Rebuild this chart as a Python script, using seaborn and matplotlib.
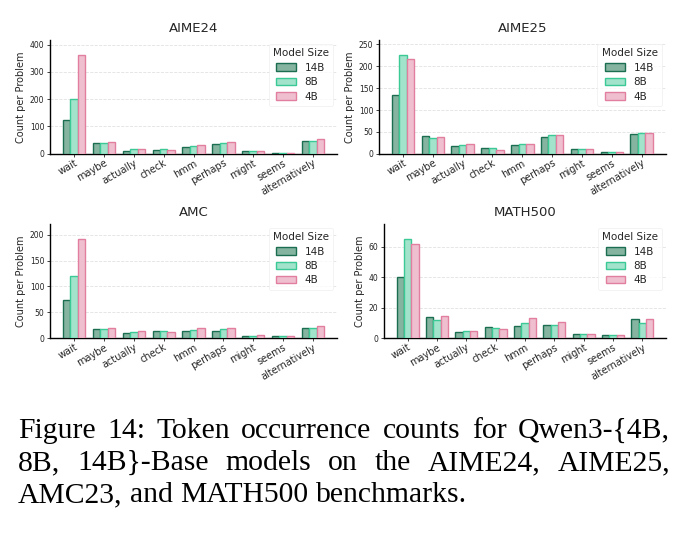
import matplotlib
matplotlib.use("Agg")
from matplotlib import pyplot as plt
import numpy as np
import pandas as pd
import seaborn as sns

# ------------------------------------------------------------
#     data
# ------------------------------------------------------------

tokens = ["wait", "maybe", "actually", "check", "hmm", "perhaps", "might", "seems", "alternatively"]
sizes = ["14B", "8B", "4B"]

aime24_14b = [124, 39, 12, 15, 24, 35, 10, 4, 46]
aime24_8b  = [202, 38, 17, 16, 29, 41, 10, 4, 47]
aime24_4b  = [362, 42, 17, 14, 31, 42, 10, 4, 53]

aime25_14b = [135, 40, 18, 14, 20, 38, 11, 5, 45]
aime25_8b  = [226, 36, 20, 13, 22, 43, 11, 5, 47]
aime25_4b  = [217, 38, 22, 9, 22, 44, 11, 5, 47]

amc_14b = [74, 18, 10, 13, 13, 13, 4, 3, 19]
amc_8b  = [121, 17, 12, 13, 15, 17, 4, 3, 20]
amc_4b  = [192, 20, 14, 12, 19, 19, 5, 3, 23]

math500_14b = [40, 14.0, 3.7, 7.0, 7.9, 8.5, 2.6, 2.2, 12.4]
math500_8b  = [65, 11.8, 4.6, 6.3, 9.8, 8.5, 2.8, 2.0, 9.8]
math500_4b  = [61.5, 14.4, 4.6, 5.9, 13.3, 10.7, 2.5, 2.0, 12.2]

benchmarks = {
    "AIME24": [aime24_14b, aime24_8b, aime24_4b],
    "AIME25": [aime25_14b, aime25_8b, aime25_4b],
    "AMC": [amc_14b, amc_8b, amc_4b],
    "MATH500": [math500_14b, math500_8b, math500_4b],
}

caption_lines = [
    "Figure 14: Token occurrence counts for Qwen3-{4B,",
    "8B, 14B}-Base models on the AIME24, AIME25,",
    "AMC23, and MATH500 benchmarks.",
]

edge_colors = ["#1b6e50", "#3bc995", "#e27f9f"]
fill_colors = ["#85b4a1", "#a2e3cc", "#efbfcf"]

# ------------------------------------------------------------
#     plotting
# ------------------------------------------------------------

sns.set_style("ticks")
plt.rcParams['font.family'] = ['DejaVu Sans']

W, H = 690, 534
fig = plt.figure(figsize=(W / 100, H / 100), dpi=100)

rects = [
    [0.0725, 0.712, 0.416, 0.213],
    [0.549, 0.712, 0.416, 0.213],
    [0.0725, 0.367, 0.416, 0.2135],
    [0.5565, 0.367, 0.409, 0.2135],
]

for (name, series), rect in zip(benchmarks.items(), rects):
    ax = fig.add_axes(rect)
    rows = []
    for size, values in zip(sizes, series):
        for tok, v in zip(tokens, values):
            rows.append({"token": tok, "Model Size": size, "count": v})
    df = pd.DataFrame(rows)

    sns.barplot(data=df, x="token", y="count", hue="Model Size",
                hue_order=sizes, order=tokens, palette=fill_colors,
                width=0.75, gap=0, ax=ax, errorbar=None, zorder=3)

    for cont, ec, fc in zip(ax.containers, edge_colors, fill_colors):
        for bar in cont:
            bar.set_edgecolor(ec)
            bar.set_facecolor(fc)
            bar.set_linewidth(1.0)

    ymax = max(max(s) for s in series)
    ax.set_ylim(0, ymax * 1.15)
    ax.set_xlim(-0.81, 8.81)

    ax.grid(axis="y", linestyle="--", linewidth=0.6, color="#e2e2e2", zorder=0)
    ax.set_axisbelow(True)
    sns.despine(ax=ax)
    for s in ["left", "bottom"]:
        ax.spines[s].set_linewidth(1.0)
        ax.spines[s].set_color("black")

    ax.set_title(name, fontsize=9.5, pad=6)
    ax.set_xlabel("")
    ax.set_ylabel("Count per Problem", fontsize=7, labelpad=3)
    ax.tick_params(axis="y", labelsize=5.5, length=2, width=0.6, pad=2, colors="#222222")
    ax.tick_params(axis="x", labelsize=7, length=2, width=0.6, pad=1)
    plt.setp(ax.get_xticklabels(), rotation=30, ha="right", rotation_mode="anchor")

    leg = ax.legend(title="Model Size", loc="upper right", fontsize=7.5, title_fontsize=7.5,
                    frameon=True, handlelength=1.9, handleheight=0.7, labelspacing=0.42,
                    borderpad=0.4, handletextpad=0.8, borderaxespad=0.4)
    leg.get_frame().set_edgecolor("#eeeeee")
    leg.get_frame().set_linewidth(0.6)
    for patch, ec, fc in zip(leg.get_patches(), edge_colors, fill_colors):
        patch.set_edgecolor(ec)
        patch.set_facecolor(fc)
        patch.set_linewidth(1.0)

# ------------------------------------------------------------
#     caption (justified, like the paper)
# ------------------------------------------------------------

renderer = fig.canvas.get_renderer()
cap_fs = 21.3
x_left, x_right = 18, 670
baselines = [438, 470, 502]
space = cap_fs * 0.25 * 100 / 72

for i, (line, yb) in enumerate(zip(caption_lines, baselines)):
    words = line.split(" ")
    texts = [fig.text(0, 1 - yb / H, w, fontsize=cap_fs, family="Liberation Serif",
                      color="black", va="baseline", ha="left") for w in words]
    widths = [t.get_window_extent(renderer).width for t in texts]
    if i == len(caption_lines) - 1:
        gap = space
    else:
        gap = max((x_right - x_left - sum(widths)) / (len(words) - 1), space * 0.6)
    x = x_left
    for t, w in zip(texts, widths):
        t.set_x(x / W)
        x += w + gap

fig.savefig("out.png", dpi=100)
